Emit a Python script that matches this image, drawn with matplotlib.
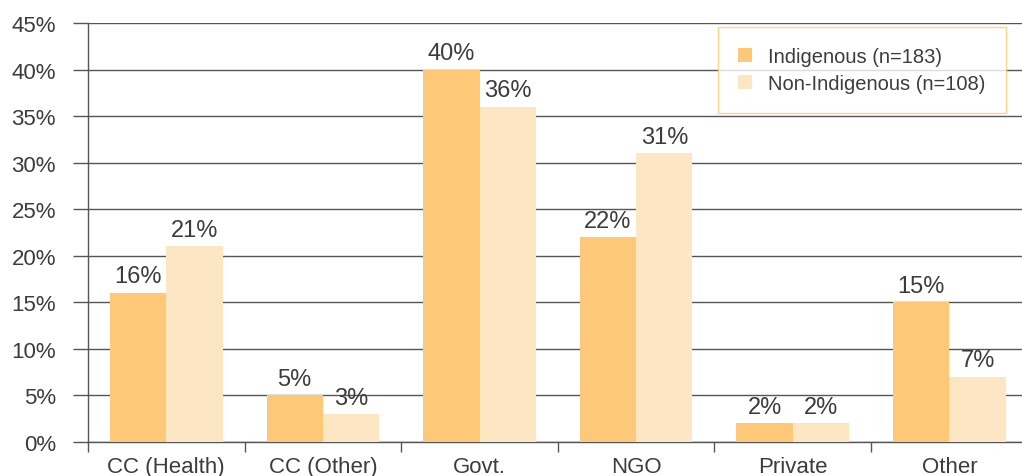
import matplotlib
matplotlib.use('Agg')
import matplotlib.pyplot as plt
import numpy as np

# data
categories = ['CC (Health)', 'CC (Other)', 'Govt.', 'NGO', 'Private', 'Other']
indigenous = [16, 5, 40, 22, 2, 15]
non_indigenous = [21, 3, 36, 31, 2, 7]
series_names = ['Indigenous (n=183)', 'Non-Indigenous (n=108)']
y_ticks = [0, 5, 10, 15, 20, 25, 30, 35, 40, 45]

col_ind = '#FDC877'
col_non = '#FDE6C3'
text_col = '#3c3c3c'
line_col = '#555555'

plt.rcParams['font.family'] = ['Liberation Sans', 'DejaVu Sans']

fig = plt.figure(figsize=(10.22, 4.77), dpi=100)
ax = fig.add_axes([0.0861, 0.0713, 0.9194, 0.8784])

x = np.arange(len(categories))
w = 0.36
b1 = ax.bar(x - w / 2, indigenous, w, color=col_ind, label=series_names[0], zorder=3)
b2 = ax.bar(x + w / 2, non_indigenous, w, color=col_non, label=series_names[1], zorder=3)

# value labels above bars
for bars, vals in [(b1, indigenous), (b2, non_indigenous)]:
    for bar, v in zip(bars, vals):
        ax.annotate(f'{v}%', (bar.get_x() + bar.get_width() / 2, v),
                    xytext=(0, 4), textcoords='offset points',
                    ha='center', va='bottom', fontsize=17, color=text_col, zorder=4)

ax.set_xlim(-0.5, len(categories) - 0.5)
ax.set_ylim(0, 45)
ax.set_yticks(y_ticks)
ax.set_yticklabels([f'{t}%' for t in y_ticks])
ax.yaxis.grid(True, color=line_col, linewidth=1)
ax.set_axisbelow(True)

ax.set_xticks(x)
ax.set_xticklabels(categories)
ax.set_xticks(np.arange(-0.5, len(categories)), minor=True)
ax.tick_params(axis='x', which='major', length=0, pad=10, labelsize=16, labelcolor=text_col)
ax.tick_params(axis='x', which='minor', length=7, width=1, color=line_col)
ax.tick_params(axis='y', length=11, width=1, color=line_col, pad=12, labelsize=16, labelcolor=text_col)

for s in ['top', 'right']:
    ax.spines[s].set_visible(False)
ax.spines['left'].set_color(line_col)
ax.spines['bottom'].set_color(line_col)
ax.spines['left'].set_linewidth(1)
ax.spines['bottom'].set_linewidth(1)

leg = ax.legend(loc='upper right', bbox_to_anchor=(1006 / 1022, 449 / 477),
                bbox_transform=fig.transFigure, fontsize=14.5, frameon=True,
                fancybox=False, handlelength=0.7, handleheight=0.7,
                handletextpad=0.8, borderpad=1.0, labelspacing=0.4,
                borderaxespad=0)
leg.get_frame().set_edgecolor(col_ind)
leg.get_frame().set_linewidth(1)
for t in leg.get_texts():
    t.set_color(text_col)

fig.savefig('out.png', dpi=100)
